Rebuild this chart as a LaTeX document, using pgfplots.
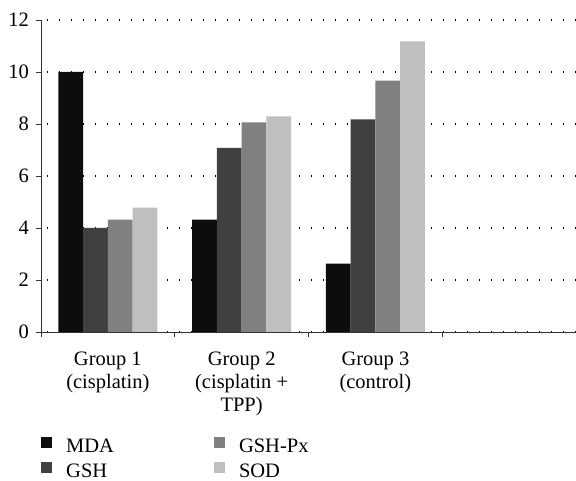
\documentclass[border=0pt]{standalone}
\usepackage{fontspec}
\setmainfont{Liberation Serif}
\usepackage{pgfplots}
\pgfplotsset{compat=1.18}
\definecolor{cMDA}{HTML}{0D0D0D}
\definecolor{cGSH}{HTML}{404040}
\definecolor{cPx}{HTML}{808080}
\definecolor{cSOD}{HTML}{BFBFBF}
\definecolor{axgray}{HTML}{333333}
\begin{document}
\fontsize{20.5bp}{23bp}\selectfont
\begin{tikzpicture}[x=1bp,y=1bp]
\path[use as bounding box] (0,0) rectangle (576,481);
\begin{axis}[
  at={(41bp,149bp)}, anchor=south west,
  scale only axis, width=535bp, height=312bp,
  xmin=-0.5, xmax=3.5, ymin=0, ymax=12,
  axis x line*=bottom, axis y line*=left,
  axis line style={draw=axgray, line width=0.9bp},
  ybar=0pt, bar width=0.185,
  ytick={0,2,...,12},
  xtick={0,1,2},
  xticklabels={{Group 1\\(cisplatin)},{Group 2\\(cisplatin +\\TPP)},{Group 3\\(control)}},
  xticklabel style={align=center, yshift=-8bp},
  major x tick style={draw=none},
  minor xtick={-0.5,0.5,1.5,2.5},
  minor x tick style={draw=axgray, line width=0.9bp},
  minor tick length=5bp, major tick length=5bp,
  tick align=outside,
  ytick style={draw=axgray, line width=0.9bp},
  /pgf/number format/assume math mode=true,
  ymajorgrids,
  grid style={black, line width=1.2bp, dash pattern=on 1.2bp off 10.8bp, dash phase=-6bp},
  legend columns=2, transpose legend,
  legend style={at={(axis description cs:0,-0.337)}, anchor=north west, draw=none, fill=none,
    inner sep=0pt, row sep=6bp,
    nodes={inner sep=0bp, text height=14bp, text depth=4bp},
    /tikz/every even column/.append style={column sep=100bp},
    /tikz/every odd column/.append style={column sep=14bp}},
  legend cell align=left,
]
\addplot[fill=cMDA, draw=none, legend image code/.code={\fill[cMDA] (0bp,-1bp) rectangle (11bp,10bp);}]
  coordinates {(0,10.0) (1,4.32) (2,2.63)};
\addplot[fill=cGSH, draw=none, legend image code/.code={\fill[cGSH] (0bp,-1bp) rectangle (11bp,10bp);}]
  coordinates {(0,4.0) (1,7.08) (2,8.18)};
\addplot[fill=cPx, draw=none, legend image code/.code={\fill[cPx] (0bp,-1bp) rectangle (11bp,10bp);}]
  coordinates {(0,4.32) (1,8.06) (2,9.67)};
\addplot[fill=cSOD, draw=none, legend image code/.code={\fill[cSOD] (0bp,-1bp) rectangle (11bp,10bp);}]
  coordinates {(0,4.78) (1,8.29) (2,11.18)};
\legend{MDA,GSH,GSH-Px,SOD}
\end{axis}
\end{tikzpicture}
\end{document}
